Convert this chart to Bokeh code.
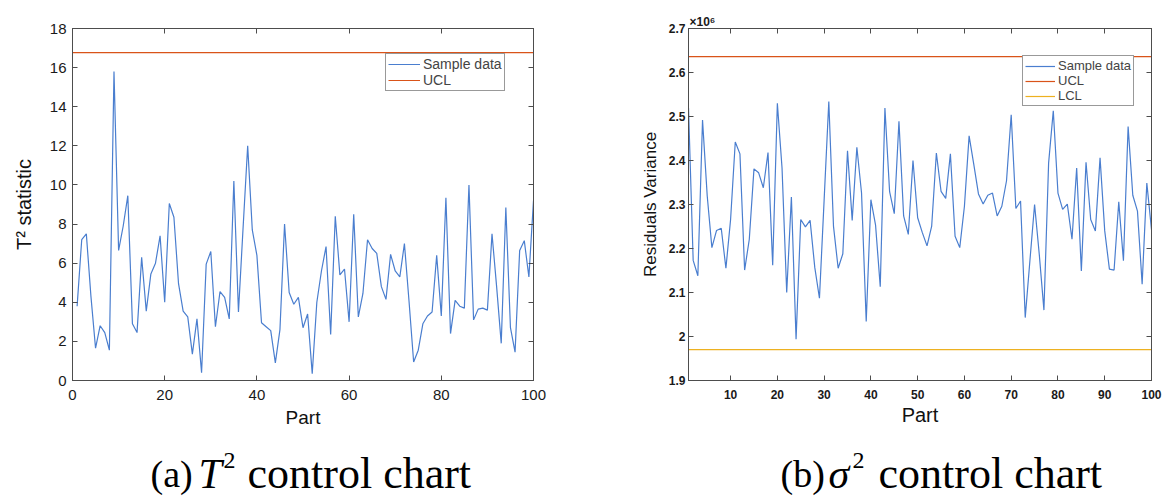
from bokeh.plotting import figure
from bokeh.models import Range1d, LinearAxis, FixedTicker, Legend, LegendItem, CustomJSTickFormatter
from bokeh.layouts import row, column
from bokeh.core.properties import value
from bokeh.embed import file_html
from bokeh.resources import INLINE

# ---------------- data ----------------
parts = list(range(1, 101))

t2_values = [3.8, 7.2, 7.5, 4.3, 1.65, 2.8, 2.45, 1.55, 15.8, 6.65,
             7.9, 9.45, 2.9, 2.45, 6.3, 3.55, 5.45, 6.0, 7.4, 4.0,
             9.05, 8.35, 4.95, 3.55, 3.25, 1.35, 3.15, 0.4, 5.95, 6.6,
             2.75, 4.55, 4.25, 3.15, 10.2, 3.5, 7.8, 12.0, 7.7, 6.4,
             2.95, 2.75, 2.55, 0.9, 2.6, 8.0, 4.5, 3.9, 4.25, 2.7,
             3.4, 0.35, 4.0, 5.6, 6.85, 2.35, 8.4, 5.4, 5.7, 3.0,
             8.5, 3.25, 4.45, 7.2, 6.75, 6.5, 4.8, 4.15, 6.45, 5.6,
             5.3, 7.0, 4.05, 0.95, 1.55, 2.9, 3.3, 3.5, 6.4, 3.3,
             9.35, 2.4, 4.1, 3.8, 3.7, 10.0, 3.1, 3.65, 3.7, 3.6,
             7.5, 4.8, 1.9, 8.85, 2.7, 1.45, 6.65, 7.15, 5.3, 9.2]
t2_ucl = 16.77

# residual variance, in units of 1e6
var_values = [2.52, 2.173, 2.138, 2.492, 2.32, 2.202, 2.241, 2.246, 2.155, 2.266,
              2.442, 2.415, 2.151, 2.221, 2.381, 2.372, 2.338, 2.418, 2.162, 2.53,
              2.383, 2.1, 2.317, 1.994, 2.266, 2.249, 2.264, 2.157, 2.087, 2.31,
              2.534, 2.251, 2.155, 2.188, 2.422, 2.264, 2.43, 2.326, 2.034, 2.311,
              2.253, 2.113, 2.519, 2.329, 2.279, 2.489, 2.274, 2.232, 2.4, 2.27,
              2.236, 2.206, 2.251, 2.417, 2.33, 2.314, 2.415, 2.228, 2.202, 2.296,
              2.456, 2.391, 2.324, 2.301, 2.321, 2.326, 2.274, 2.296, 2.354, 2.504,
              2.291, 2.308, 2.043, 2.172, 2.3, 2.187, 2.06, 2.394, 2.513, 2.326,
              2.289, 2.301, 2.221, 2.383, 2.149, 2.396, 2.266, 2.24, 2.406, 2.24,
              2.153, 2.151, 2.306, 2.172, 2.477, 2.321, 2.285, 2.119, 2.349, 2.243]
var_ucl = 2.636
var_lcl = 1.970

t2_xlim = [0, 100]
t2_ylim = [0, 18]
t2_xticks = [0, 20, 40, 60, 80, 100]
t2_yticks = [0, 2, 4, 6, 8, 10, 12, 14, 16, 18]

var_xlim = [1, 100]
var_ylim = [1.9, 2.7]
var_xticks = [10, 20, 30, 40, 50, 60, 70, 80, 90, 100]
var_yticks = [1.9, 2.0, 2.1, 2.2, 2.3, 2.4, 2.5, 2.6, 2.7]

# ---------------- style ----------------
SANS = "Liberation Sans"
SERIF = "Liberation Serif"
BLUE = "#4a7ecf"
ORANGE = "#D95319"
YELLOW = "#EDB120"
AXC = "#4d4d4d"
PLOT_H = 440
CAP_H = 503 - PLOT_H


def style_axis(ax, font_size, bold=False, standoff=8):
    ax.axis_line_color = AXC
    ax.major_tick_line_color = AXC
    ax.major_tick_in = 5
    ax.major_tick_out = 0
    ax.minor_tick_line_color = None
    ax.major_label_text_font = SANS
    ax.major_label_text_color = "#1a1a1a"
    ax.major_label_text_font_size = font_size
    ax.major_label_text_font_style = "bold" if bold else "normal"
    ax.major_label_standoff = standoff
    ax.axis_label_text_font = SANS
    ax.axis_label_text_font_style = "normal"
    ax.axis_label_text_color = "#111111"


def box_axis(ticks):
    ax = LinearAxis(ticker=FixedTicker(ticks=ticks),
                    formatter=CustomJSTickFormatter(code="return '';"))
    ax.axis_line_color = AXC
    ax.major_tick_line_color = AXC
    ax.major_tick_in = 5
    ax.major_tick_out = 0
    ax.minor_tick_line_color = None
    ax.major_label_standoff = 0
    return ax


def base_fig(width, xlim, ylim, bl, br, bt, bb):
    p = figure(width=width, height=PLOT_H, x_range=Range1d(*xlim), y_range=Range1d(*ylim),
               output_backend="svg", toolbar_location=None,
               min_border_left=bl, min_border_right=br, min_border_top=bt, min_border_bottom=bb)
    p.xgrid.visible = False
    p.ygrid.visible = False
    p.outline_line_color = AXC
    p.outline_line_width = 1
    p.background_fill_color = "white"
    p.border_fill_color = "white"
    return p


def style_legend(leg, size, glyph_w):
    leg.label_text_font = SANS
    leg.label_text_font_size = size
    leg.label_height = 12
    leg.glyph_height = 12
    leg.glyph_width = glyph_w
    leg.label_standoff = 3
    leg.spacing = 0
    leg.padding = 2
    leg.margin = 0
    leg.border_line_color = "#333333"
    leg.border_line_width = 1
    leg.background_fill_alpha = 1.0


# ---------------- (a) T^2 chart ----------------
p1 = base_fig(600, t2_xlim, t2_ylim, 72, 67, 14, PLOT_H - 383)
l_sample1 = p1.line(parts, t2_values, line_color=BLUE, line_width=1.2)
l_ucl1 = p1.line(t2_xlim, [t2_ucl, t2_ucl], line_color=ORANGE, line_width=1.2)

p1.xaxis.ticker = FixedTicker(ticks=t2_xticks)
p1.yaxis.ticker = FixedTicker(ticks=t2_yticks)
style_axis(p1.xaxis[0], "15px", standoff=9)
style_axis(p1.yaxis[0], "15px", standoff=6)
p1.xaxis.axis_label = "Part"
p1.xaxis.axis_label_text_font_size = "19px"
p1.xaxis.axis_label_standoff = 4
p1.yaxis.axis_label = "T² statistic"
p1.yaxis.axis_label_text_font_size = "20px"
p1.yaxis.axis_label_standoff = 12
p1.add_layout(box_axis(t2_xticks), "above")
p1.add_layout(box_axis(t2_yticks), "right")

leg1 = Legend(items=[LegendItem(label="Sample data", renderers=[l_sample1]),
                     LegendItem(label="UCL", renderers=[l_ucl1])],
              location=(313, 289))
style_legend(leg1, "14px", 32)
p1.add_layout(leg1)

# ---------------- (b) sigma^2 chart ----------------
p2 = base_fig(564, var_xlim, var_ylim, 88, 13, 28, PLOT_H - 380)
l_sample2 = p2.line(parts, var_values, line_color=BLUE, line_width=1.2)
l_ucl2 = p2.line(var_xlim, [var_ucl, var_ucl], line_color=ORANGE, line_width=1.2)
l_lcl2 = p2.line(var_xlim, [var_lcl, var_lcl], line_color=YELLOW, line_width=1.2)

p2.xaxis.ticker = FixedTicker(ticks=var_xticks)
p2.yaxis.ticker = FixedTicker(ticks=var_yticks)
p2.yaxis.formatter = CustomJSTickFormatter(code="return String(Math.round(tick*10)/10);")
style_axis(p2.xaxis[0], "12px", bold=True, standoff=9)
style_axis(p2.yaxis[0], "12px", bold=True, standoff=3)
p2.xaxis.axis_label = "Part"
p2.xaxis.axis_label_text_font_size = "20px"
p2.xaxis.axis_label_standoff = 2
p2.yaxis.axis_label = "Residuals Variance"
p2.yaxis.axis_label_text_font_size = "17px"
p2.yaxis.axis_label_standoff = 6
p2.add_layout(box_axis(var_xticks), "above")
p2.add_layout(box_axis(var_yticks), "right")

# exponent of the y axis
p2.title.text = "×10⁶"
p2.title.align = "left"
p2.title.offset = 1
p2.title.standoff = 0
p2.title.text_font = SANS
p2.title.text_font_size = "12px"
p2.title.text_font_style = "bold"
p2.title.text_color = "#1a1a1a"

leg2 = Legend(items=[LegendItem(label="Sample data", renderers=[l_sample2]),
                     LegendItem(label="UCL", renderers=[l_ucl2]),
                     LegendItem(label="LCL", renderers=[l_lcl2])],
              location=(334, 274))
style_legend(leg2, "13px", 30)
p2.add_layout(leg2)

# ---------------- captions ----------------
cap = figure(width=1164, height=CAP_H, x_range=Range1d(0, 1164), y_range=Range1d(CAP_H, 0),
             output_backend="svg", toolbar_location=None, x_axis_type=None, y_axis_type=None,
             min_border=0)
cap.xgrid.visible = False
cap.ygrid.visible = False
cap.outline_line_color = None

base_y = 33
cap_pieces = [
    ("(a)", 150, base_y, "38px", "normal"),
    ("T", 198, base_y, "42px", "italic"),
    ("2", 223, base_y - 13, "24px", "normal"),
    ("control chart", 247, base_y, "44px", "normal"),
    ("(b)", 780, base_y, "38px", "normal"),
    ("σ", 828, base_y, "42px", "italic"),
    ("2", 852, base_y - 13, "24px", "normal"),
    ("control chart", 878, base_y, "44px", "normal"),
]
for txt, x, y, size, style in cap_pieces:
    cap.text(x=[x], y=[y], text=[txt], text_font=value(SERIF), text_font_size=size,
             text_font_style=style, text_color="#000000", text_baseline="alphabetic",
             text_align="left")

layout = column(row(p1, p2), cap)
open("out.html", "w").write(file_html(layout, INLINE))
